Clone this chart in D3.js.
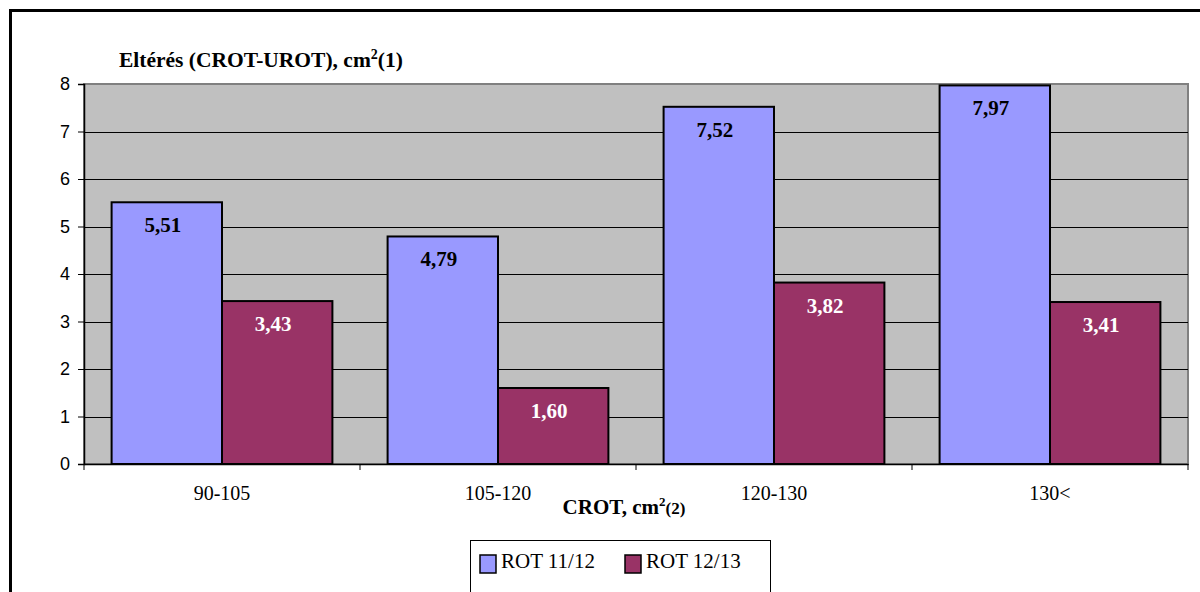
<!DOCTYPE html>
<html>
<head>
<meta charset="utf-8">
<script src="https://cdn.jsdelivr.net/npm/d3@7"></script>
<style>
  html, body { margin: 0; padding: 0; background: #fff; }
  svg { display: block; }
  .serif { font-family: "Liberation Serif", "Times New Roman", Times, "DejaVu Serif", serif; }
  .sans { font-family: "Liberation Sans", Arial, Helvetica, sans-serif; }
</style>
</head>
<body>
<svg id="chart" width="1200" height="592"></svg>
<script>
// Size classes of the CROT area
const categories = ["90-105", "105-120", "120-130", "130<"];
const seriesNames = ["ROT 11/12", "ROT 12/13"];
const rot1112 = [5.51, 4.79, 7.52, 7.97];
const rot1213 = [3.43, 1.60, 3.82, 3.41];
const yTicks = [0, 1, 2, 3, 4, 5, 6, 7, 8];

const colors = ["#9999FF", "#993366"];
const labelColors = ["#000000", "#FFFFFF"];
const fmt = v => d3.format(".2f")(v).replace(".", ",");

const svg = d3.select("#chart");
const plot = { left: 84, top: 84, right: 1188, bottom: 464 };

// outer chart frame
svg.append("rect")
  .attr("x", 10.5).attr("y", 10.5)
  .attr("width", 1210).attr("height", 610)
  .attr("fill", "#fff").attr("stroke", "#000").attr("stroke-width", 3);

const x = d3.scaleBand().domain(categories).range([plot.left, plot.right]).paddingInner(0).paddingOuter(0);
const inner = d3.scaleBand().domain(seriesNames).range([0, x.bandwidth()]).paddingInner(0).paddingOuter(0.25);
const y = d3.scaleLinear().domain([0, 8]).range([plot.bottom, plot.top]);

// plot background
svg.append("rect")
  .attr("x", plot.left).attr("y", plot.top)
  .attr("width", plot.right - plot.left).attr("height", plot.bottom - plot.top)
  .attr("fill", "#C0C0C0").attr("stroke", "#808080").attr("stroke-width", 2);

// gridlines
svg.append("g").selectAll("line")
  .data(yTicks.filter(t => t > 0 && t < 8))
  .join("line")
  .attr("x1", plot.left).attr("x2", plot.right)
  .attr("y1", d => Math.round(y(d)) + 0.5).attr("y2", d => Math.round(y(d)) + 0.5)
  .attr("stroke", "#000").attr("stroke-width", 1);

// bars
const rows = categories.map((c, i) => ({ cat: c, values: [rot1112[i], rot1213[i]] }));
const groups = svg.append("g").selectAll("g")
  .data(rows).join("g")
  .attr("transform", d => `translate(${x(d.cat)},0)`);

groups.selectAll("rect")
  .data(d => d.values.map((v, j) => ({ v, j })))
  .join("rect")
  .attr("x", d => inner(seriesNames[d.j]))
  .attr("y", d => y(d.v))
  .attr("width", inner.bandwidth())
  .attr("height", d => y(0) - y(d.v))
  .attr("fill", d => colors[d.j])
  .attr("stroke", "#000").attr("stroke-width", 2);

groups.selectAll("text")
  .data(d => d.values.map((v, j) => ({ v, j })))
  .join("text")
  .attr("class", "serif")
  .attr("x", d => inner(seriesNames[d.j]) + inner.bandwidth() / 2 - 4)
  .attr("y", d => y(d.v) + 30)
  .attr("text-anchor", "middle")
  .attr("font-weight", "bold")
  .attr("font-size", 21)
  .attr("fill", d => labelColors[d.j])
  .text(d => fmt(d.v));

// y axis
const yAxis = svg.append("g")
  .attr("transform", `translate(${plot.left},0)`)
  .call(d3.axisLeft(y).tickValues(yTicks).tickSize(6).tickPadding(8).tickFormat(d3.format("d")));
yAxis.attr("font-family", null);
yAxis.select(".domain").attr("stroke", "#000").attr("stroke-width", 1.5);
yAxis.selectAll(".tick line").attr("stroke", "#000");
yAxis.selectAll("text")
  .attr("class", "sans")
  .attr("font-size", 18).attr("fill", "#000");

// x axis
const xAxis = svg.append("g")
  .attr("transform", `translate(0,${plot.bottom})`)
  .call(d3.axisBottom(x).tickSize(0).tickPadding(22));
xAxis.attr("font-family", null);
xAxis.select(".domain").attr("stroke", "#000").attr("stroke-width", 1.5);
xAxis.selectAll("text")
  .attr("class", "serif")
  .attr("font-size", 20).attr("fill", "#000");
// category separators below the axis
svg.append("g").selectAll("line")
  .data(categories.map(c => x(c)).concat([plot.right]))
  .join("line")
  .attr("x1", d => d).attr("x2", d => d)
  .attr("y1", plot.bottom).attr("y2", plot.bottom + 6)
  .attr("stroke", "#000");

// axis titles
const yTitle = svg.append("text")
  .attr("class", "serif")
  .attr("x", 119).attr("y", 67)
  .attr("font-weight", "bold").attr("font-size", 21.5).attr("fill", "#000");
yTitle.append("tspan").text("Eltérés (CROT-UROT), cm");
yTitle.append("tspan").attr("dy", -8).attr("font-size", 14).text("2");
yTitle.append("tspan").attr("dy", 8).text("(1)");

const xTitle = svg.append("text")
  .attr("class", "serif")
  .attr("x", 624).attr("y", 514)
  .attr("text-anchor", "middle")
  .attr("font-weight", "bold").attr("font-size", 21).attr("fill", "#000");
xTitle.append("tspan").text("CROT, cm");
xTitle.append("tspan").attr("dy", -8).attr("font-size", 13).text("2");
xTitle.append("tspan").attr("dy", 8).attr("font-size", 17).text("(2)");

// legend
const legend = svg.append("g");
legend.append("rect")
  .attr("x", 470.5).attr("y", 540.5).attr("width", 300).attr("height", 60)
  .attr("fill", "#fff").attr("stroke", "#000").attr("stroke-width", 1);
const legendX = [480, 625];
const items = legend.selectAll("g").data(seriesNames).join("g")
  .attr("transform", (d, i) => `translate(${legendX[i]},555)`);
items.append("rect")
  .attr("width", 16).attr("height", 18)
  .attr("fill", (d, i) => colors[i]).attr("stroke", "#000").attr("stroke-width", 1.5);
items.append("text")
  .attr("class", "serif")
  .attr("x", 21).attr("y", 13)
  .attr("font-size", 21).attr("fill", "#000")
  .text(d => d);
</script>
</body>
</html>
